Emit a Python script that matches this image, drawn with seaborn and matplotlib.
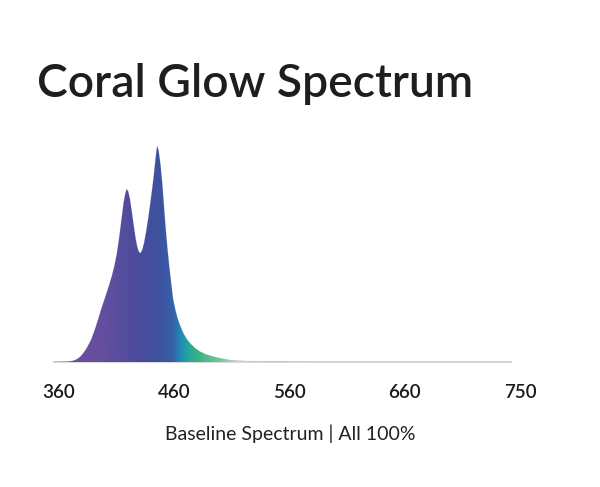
import numpy as np
import pandas as pd
import matplotlib
matplotlib.use("Agg")
import matplotlib.pyplot as plt
import seaborn as sns
from matplotlib.colors import LinearSegmentedColormap

# ---------------- data ----------------
wavelength = [355, 366, 370, 373, 376, 379, 382, 385, 388, 391, 394, 397, 400, 403,
              406, 408, 410, 412, 414, 416, 417.5, 418.7, 420, 421.5, 423, 425, 426.5,
              428, 429.5, 431, 432.5, 434, 436, 438, 440, 442, 443.5, 444.5, 445.3,
              446.5, 448, 449.5, 451, 452.5, 454, 455.5, 457, 459, 461, 463, 465, 468,
              471, 474, 478, 482, 487, 493, 500, 508, 516, 524, 540, 560, 580, 753]
intensity = [0.0, 0.001, 0.003, 0.007, 0.014, 0.027, 0.047, 0.073, 0.104, 0.148, 0.198,
             0.25, 0.298, 0.347, 0.40, 0.443, 0.495, 0.565, 0.65, 0.735, 0.778, 0.80,
             0.79, 0.755, 0.70, 0.625, 0.57, 0.53, 0.507, 0.505, 0.522, 0.555, 0.615,
             0.685, 0.765, 0.85, 0.925, 0.975, 1.0, 0.975, 0.915, 0.83, 0.725, 0.62,
             0.53, 0.45, 0.38, 0.29, 0.24, 0.20, 0.17, 0.132, 0.105, 0.085, 0.064,
             0.049, 0.036, 0.026, 0.017, 0.009, 0.006, 0.004, 0.002, 0.001, 0.0, 0.0]

tick_positions = [360, 460, 560, 660, 760]
tick_labels = ["360", "460", "560", "660", "750"]

color_stop_nm = [355, 390, 410, 428, 448, 459, 465, 471, 482, 500, 520, 560, 753]
color_stop_hex = ["#6f4e9e", "#6a4d9e", "#5a4d9e", "#4a4c9c", "#3d52a0", "#3462a8",
                  "#2288b8", "#22a5a0", "#3cb582", "#7ac79a", "#d2e8cc", "#e8e8e2",
                  "#e8e8e8"]

title = "Coral Glow Spectrum"
caption = "Baseline Spectrum | All 100%"

df = pd.DataFrame({"wavelength": wavelength, "intensity": intensity})

# ---------------- style ----------------
sns.set_theme(style="white")
plt.rcParams["font.family"] = ["Lato", "DejaVu Sans"]

W, H = 600, 487
fig = plt.figure(figsize=(W / 100, H / 100), dpi=100)
fig.patch.set_facecolor("white")

# axes geometry (pixels): left 53, right 530, baseline 362, top 130
left_px, right_px, base_px, top_px = 53, 530, 362, 130
ax = fig.add_axes([left_px / W, (H - base_px) / H,
                   (right_px - left_px) / W, (base_px - top_px) / H])

px_per_nm = 1.1525
x0 = 360 - (59 - left_px) / px_per_nm
x1 = 360 + (right_px - 59) / px_per_nm
y1 = (base_px - top_px) / 216.0
ax.set_xlim(x0, x1)
ax.set_ylim(0, y1)

# gradient fill clipped by the spectrum area
lo, hi = df["wavelength"].min(), df["wavelength"].max()
cmap = LinearSegmentedColormap.from_list(
    "spec", [((n - lo) / (hi - lo), c) for n, c in zip(color_stop_nm, color_stop_hex)])
grad = np.linspace(x0, x1, 1200)
grad = np.clip((grad - lo) / (hi - lo), 0, 1)[None, :]
poly = ax.fill_between(df["wavelength"], df["intensity"], 0, color="none", lw=0)
im = ax.imshow(grad, cmap=cmap, vmin=0, vmax=1, extent=[x0, x1, 0, y1],
               aspect="auto", origin="lower", zorder=2, interpolation="bilinear")
im.set_clip_path(poly.get_paths()[0], transform=ax.transData)

# faint edge line via seaborn for smoother outline
sns.lineplot(data=df, x="wavelength", y="intensity", ax=ax, color="#4a4c9c",
             lw=0.4, alpha=0.25, zorder=3)

# baseline
ax.hlines(0, lo, hi, color="#d4d4d4", lw=1.3, zorder=1, clip_on=False)

for s in ax.spines.values():
    s.set_visible(False)
ax.set_yticks([])
ax.set_xticks(tick_positions)
ax.set_xticklabels(tick_labels)
ax.tick_params(axis="x", length=0, pad=16, labelsize=13.5, labelcolor="#1a1a1a")
for t in ax.get_xticklabels():
    t.set_fontweight("semibold")
ax.set_xlabel("")
ax.set_ylabel("")
ax.set_facecolor("white")

fig.text(37 / W, (H - 97) / H, title, fontsize=33.3, fontweight="semibold",
         color="#1e1e1e", ha="left", va="baseline")
fig.text(290.5 / W, (H - 440) / H, caption, fontsize=14, fontweight="normal",
         color="#222222", ha="center", va="baseline")

fig.savefig("out.png", dpi=100, facecolor="white")
